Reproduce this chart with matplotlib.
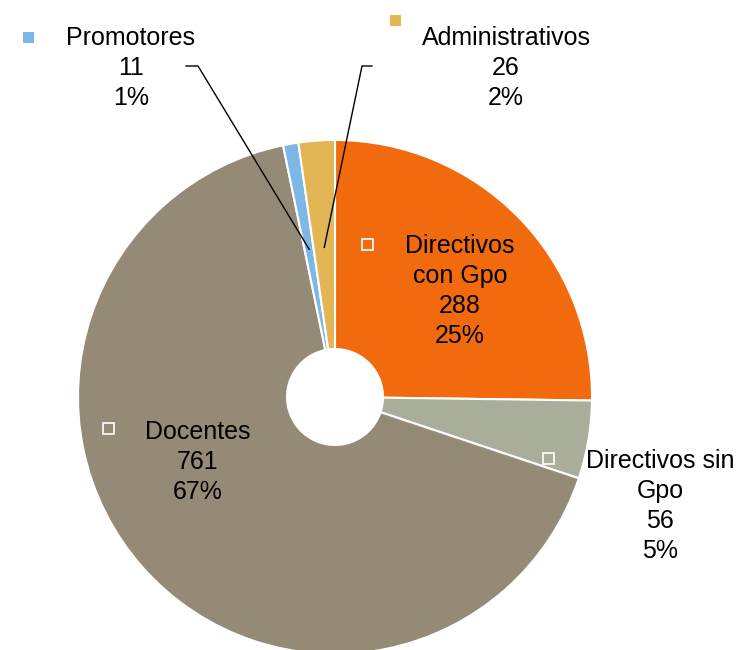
import numpy as np
import matplotlib.pyplot as plt
from matplotlib.patches import Rectangle

plt.rcParams['font.family'] = ['Liberation Sans', 'DejaVu Sans']

# data, clockwise from 12 o'clock
categories = ['Directivos\ncon Gpo', 'Directivos sin\nGpo', 'Docentes', 'Promotores', 'Administrativos']
values = [288, 56, 761, 11, 26]
colors = ['#F26A0E', '#A9AE9B', '#958A75', '#7DB7E5', '#E2B655']

W, H = 739, 650
fig = plt.figure(figsize=(W / 100, H / 100), dpi=100)
ax = fig.add_axes([0, 0, 1, 1])

cx, cy = 335, H - 397
R = 257
hole = 48

wedges, _ = ax.pie(values, colors=colors, startangle=90, counterclock=False,
                   center=(cx, cy), radius=R, frame=True,
                   wedgeprops=dict(width=R - hole, edgecolor='white', linewidth=1.5))
ax.set_xlim(0, W)
ax.set_ylim(0, H)
ax.set_aspect('equal')
ax.axis('off')

total = sum(values)
fs = 18


def label_text(i):
    pct = round(values[i] / total * 100)
    return f"{categories[i]}\n{values[i]}\n{pct}%"


def key(x, y, color, hollow):
    s = 11
    if hollow:
        ax.add_patch(Rectangle((x - s / 2, H - y - s / 2), s, s, facecolor='none',
                               edgecolor='white', linewidth=1.2, zorder=5))
    else:
        ax.add_patch(Rectangle((x - s / 2, H - y - s / 2), s, s, facecolor=color,
                               edgecolor='none', zorder=5))


# (key x, key y, text centre x, first line y, hollow key)
layout = [
    (367, 244, 460, 246, True),
    (548, 458, 660, 461, True),
    (108, 428, 198, 432, True),
    (28, 37, 131, 38, False),
    (395, 20, 506, 38, False),
]

line_h = 30
for i, (kx, ky, tx, ty, hollow) in enumerate(layout):
    key(kx, ky, colors[i], hollow)
    lines = label_text(i).split('\n')
    for j, ln in enumerate(lines):
        ax.text(tx, H - (ty + j * line_h), ln, ha='center', va='center',
                fontsize=fs, color='black', zorder=6)

# leader lines for the two small slices
cum = np.cumsum([0] + values)
leaders = {3: [(186, 66), (198, 66)], 4: [(372, 66), (362, 66)]}
for i, pts in leaders.items():
    mid = (cum[i] + values[i] / 2) / total * 360
    ang = np.deg2rad(90 - mid)
    ex, ey = cx + 150 * np.cos(ang), cy + 150 * np.sin(ang)
    xs = [p[0] for p in pts] + [ex]
    ys = [H - p[1] for p in pts] + [ey]
    ax.plot(xs, ys, color='black', linewidth=1, zorder=6)

fig.savefig('out.png', dpi=100)
